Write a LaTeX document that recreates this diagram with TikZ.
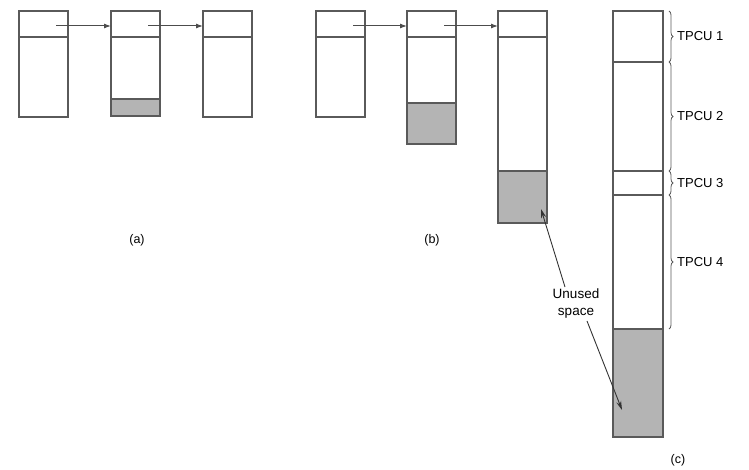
\documentclass[tikz,border=0pt]{standalone}
\usepackage{fontspec}
\setmainfont{Liberation Sans}
\usetikzlibrary{arrows.meta,decorations.pathreplacing,calc}
\definecolor{boxline}{HTML}{5A5A5A}
\definecolor{unused}{HTML}{B4B4B4}
\begin{document}
\begin{tikzpicture}[x=1pt,y=-1pt,
  seg/.style={draw=boxline,line width=1.3pt,fill=white,minimum width=49pt,inner sep=0pt,outer sep=0pt,anchor=north west},
  gseg/.style={seg,fill=unused},
  arr/.style={draw=black!70,line width=1pt,-{Latex[length=7pt,width=5pt]}},
  ptr/.style={draw=black!80,line width=0.9pt,-{Stealth[length=9pt,width=5pt]}},
  brc/.style={draw=boxline,line width=0.8pt,decorate,decoration={brace,amplitude=4pt}},
  lbl/.style={font=\fontsize{12.5}{14}\selectfont,inner sep=1pt},
  tlbl/.style={font=\fontsize{13}{15}\selectfont,anchor=west,inner sep=0pt}]
\useasboundingbox (0,0) rectangle (749,470);
% ---- (a)
\node[seg,minimum height=26pt] (a1h) at (19,11) {};
\node[seg,minimum height=80pt] (a1b) at (19,37) {};
\node[seg,minimum height=26pt] (a2h) at (111,11) {};
\node[seg,minimum height=62pt] (a2b) at (111,37) {};
\node[gseg,minimum height=17pt] (a2g) at (111,99) {};
\node[seg,minimum height=26pt] (a3h) at (203,11) {};
\node[seg,minimum height=80pt] (a3b) at (203,37) {};
\draw[arr] ([xshift=-12pt,yshift=-2pt]a1h.east) -- ([yshift=-2pt]a2h.west);
\draw[arr] ([xshift=-12pt,yshift=-2pt]a2h.east) -- ([yshift=-2pt]a3h.west);
\node[lbl] (la) at (137,240) {(a)};
% ---- (b)
\node[seg,minimum height=26pt] (b1h) at (316,11) {};
\node[seg,minimum height=80pt] (b1b) at (316,37) {};
\node[seg,minimum height=26pt] (b2h) at (407,11) {};
\node[seg,minimum height=66pt] (b2b) at (407,37) {};
\node[gseg,minimum height=41pt] (b2g) at (407,103) {};
\node[seg,minimum height=26pt] (b3h) at (498,11) {};
\node[seg,minimum height=134pt] (b3b) at (498,37) {};
\node[gseg,minimum height=52pt] (b3g) at (498,171) {};
\draw[arr] ([xshift=-12pt,yshift=-2pt]b1h.east) -- ([yshift=-2pt]b2h.west);
\draw[arr] ([xshift=-12pt,yshift=-2pt]b2h.east) -- ([yshift=-2pt]b3h.west);
\node[lbl] (lb) at (432,240) {(b)};
% ---- (c)
\node[seg,minimum width=50pt,minimum height=51pt] (c1) at (613,11) {};
\node[seg,minimum width=50pt,minimum height=109pt] (c2) at (613,62) {};
\node[seg,minimum width=50pt,minimum height=24pt] (c3) at (613,171) {};
\node[seg,minimum width=50pt,minimum height=134pt] (c4) at (613,195) {};
\node[gseg,minimum width=50pt,minimum height=108pt] (c5) at (613,329) {};
\node[lbl] (lc) at (678,460) {(c)};
% braces
\draw[brc] ([xshift=6pt]c1.north east) -- ([xshift=6pt]c1.south east) coordinate[midway,xshift=5pt] (t1);
\draw[brc] ([xshift=6pt]c2.north east) -- ([xshift=6pt]c2.south east) coordinate[midway,xshift=5pt] (t2);
\draw[brc] ([xshift=6pt]c3.north east) -- ([xshift=6pt]c3.south east) coordinate[midway,xshift=5pt] (t3);
\draw[brc] ([xshift=6pt]c4.north east) -- ([xshift=6pt]c4.south east) coordinate[midway,xshift=5pt] (t4);
\node[tlbl] (p1) at ([xshift=3pt]t1) {TPCU 1};
\node[tlbl] (p2) at ([xshift=3pt]t2) {TPCU 2};
\node[tlbl] (p3) at ([xshift=3pt]t3) {TPCU 3};
\node[tlbl] (p4) at ([xshift=3pt]t4) {TPCU 4};
% unused space
\node[lbl,font=\fontsize{13.5}{17}\selectfont,align=center,inner sep=2pt] (us) at (576,304) {Unused\\space};
\coordinate (tip1) at (541,209);
\coordinate (tip2) at (622,410);
\draw[ptr] ([xshift=-11pt]us.north) -- (tip1);
\draw[ptr] ([xshift=11pt]us.south) -- (tip2);
\end{tikzpicture}
\end{document}
